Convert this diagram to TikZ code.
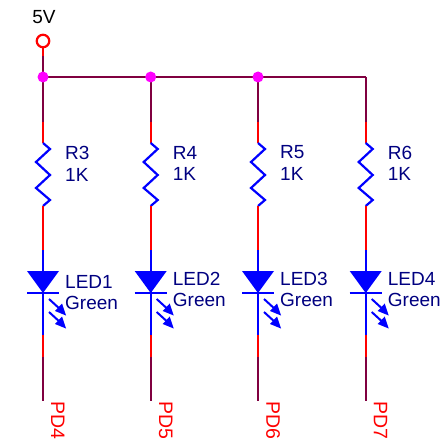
\documentclass[tikz,border=0pt]{standalone}
\usepackage{fontspec}
\setmainfont{Liberation Sans}
\definecolor{wire}{HTML}{800040}
\definecolor{pin}{HTML}{FF0000}
\definecolor{body}{HTML}{0000FF}
\definecolor{lbl}{HTML}{000080}
\definecolor{junc}{HTML}{FF00FF}
\tikzset{
  x=1pt,y=-1pt,
  wireline/.style={draw=wire,line width=2.2pt},
  pinline/.style={draw=pin,line width=2.2pt},
  bodyline/.style={draw=body,line width=2.2pt},
  label text/.style={inner sep=0pt,anchor=west,text=lbl,font=\fontsize{19}{19}\selectfont},
  netname/.style={inner sep=0pt,text=pin,font=\fontsize{19.5}{19.5}\selectfont,rotate=-90,anchor=south west},
  junction/.style={circle,fill=junc,inner sep=0pt,minimum size=11pt},
  terminal/.style={circle,draw=pin,fill=white,line width=2.2pt,inner sep=0pt,minimum size=12.5pt},
  ray/.style={draw=body,line width=2pt},
  rayhead/.style={fill=body,draw=none}
}
\begin{document}
\begin{tikzpicture}
\useasboundingbox (0,0) rectangle (443,438);
% supply
\node[terminal] (vcc) at (43,41) {};
\node[inner sep=0pt,text=black,font=\fontsize{19}{19}\selectfont] (vlabel) at (44,17.5) {5V};
\coordinate (stub) at (43,56);
\draw[pinline] (vcc) -- (stub);
\coordinate (bus1) at (43,77);
\coordinate (bus4) at (365.7,77);
\draw[wireline,line join=miter] (stub) -- (bus1) -- (bus4);
\foreach \i/\x/\rn/\rl/\ln/\ldy/\pd in {1/43/R3/153/LED1/282/PD4,2/150.7/R4/152.5/LED2/279/PD5,3/258/R5/152.5/LED3/279/PD6,4/365.7/R6/152.5/LED4/279/PD7}{
  \coordinate (top\i) at (\x,77);
  \coordinate (a\i) at (\x,122);
  \coordinate (b\i) at (\x,143);
  \coordinate (c\i) at (\x,206);
  \coordinate (d\i) at (\x,250);
  \coordinate (k\i) at (\x,293);
  \coordinate (e\i) at (\x,335);
  \coordinate (f\i) at (\x,357);
  \coordinate (g\i) at (\x,401);
  \draw[wireline] (top\i) -- (a\i);
  \draw[pinline] (a\i) -- (b\i);
  \draw[bodyline,line join=miter] (b\i) -- ++(7,6) -- ++(-14,13) -- ++(14,13) -- ++(-14,13) -- ++(14,12) -- (c\i);
  \draw[pinline] (c\i) -- (d\i);
  \draw[bodyline] (d\i) -- (e\i);
  \fill[body] (\x-16,271) -- (\x+16,271) -- (k\i) -- cycle;
  \draw[bodyline] (\x-16,293) -- (\x+16,293);
  \draw[pinline] (e\i) -- (f\i);
  \draw[wireline] (f\i) -- (g\i);
  \draw[ray] (\x+6,299) -- (\x+18,310);
  \fill[rayhead] (\x+23,315.5) -- (\x+12,311) -- (\x+19,303.5) -- cycle;
  \draw[ray] (\x+6,312) -- (\x+18,323);
  \fill[rayhead] (\x+23,328.5) -- (\x+12,324) -- (\x+19,316.5) -- cycle;
  \node[label text] (rn\i) at (\x+22,\rl) {\rn};
  \node[label text] (rv\i) at (\x+22,\rl+21.5) {1K};
  \node[label text] (ln\i) at (\x+22,\ldy) {\ln};
  \node[label text] (lc\i) at (\x+22,\ldy+21) {Green};
  \node[netname] (pd\i) at (\x+8,401) {\pd};
}
\foreach \i in {1,2,3}{ \node[junction] (j\i) at (top\i) {}; }
\end{tikzpicture}
\end{document}
